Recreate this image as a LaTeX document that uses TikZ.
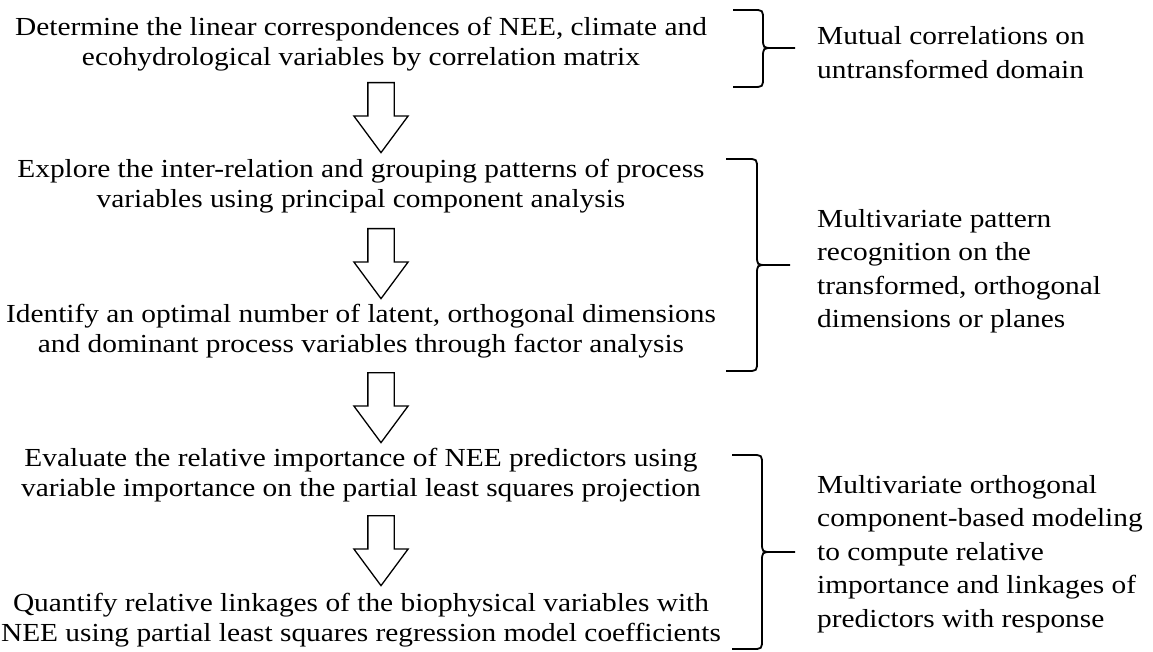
\documentclass[tikz,border=0pt]{standalone}
\usepackage{fontspec}
\setmainfont{Liberation Serif}[FakeStretch=1.13]
\usetikzlibrary{shapes.arrows, positioning, calc}

% Word-style curly brace: x tip, x stem, x point, y top, y point, y bottom
\newcommand\wordbrace[6]{%
  \draw[bracepen] (#1,#4) -- ({#2-10},#4) .. controls (#2,#4) .. (#2,{#4+10})
    -- (#2,{#5-10}) .. controls (#2,#5) .. ({#2+10},#5) -- (#3,#5)
    ({#2+10},#5) .. controls (#2,#5) .. (#2,{#5+10})
    -- (#2,{#6-10}) .. controls (#2,#6) .. ({#2-10},#6) -- (#1,#6);}

\begin{document}
\begin{tikzpicture}[
    x=1pt, y=-1pt,
    stage/.style={font=\fontsize{26}{30}\selectfont, align=center, inner sep=0pt},
    remark/.style={font=\fontsize{26}{33.5}\selectfont, align=left, anchor=west, inner sep=0pt},
    flow/.style={single arrow, draw, line width=1.3pt, rotate=-90, anchor=tail, inner sep=0pt,
      text height=12.5pt, text depth=12.5pt, minimum height=70pt,
      single arrow head extend=14pt, single arrow tip angle=73},
    bracepen/.style={line width=1.8pt}
  ]
  \useasboundingbox (0,0) rectangle (1153,652);

  % steps on the left
  \node[stage] (corr) at (361,43.8) {Determine the linear correspondences of NEE, climate and\\ecohydrological variables by correlation matrix};
  \node[stage] (pca) at (361,185.8) {Explore the inter-relation and grouping patterns of process\\variables using principal component analysis};
  \node[stage] (fa) at (361,331.3) {Identify an optimal number of latent, orthogonal dimensions\\and dominant process variables through factor analysis};
  \node[stage] (vip) at (361,474.8) {Evaluate the relative importance of NEE predictors using\\variable importance on the partial least squares projection};
  \node[stage] (plsr) at (361,619.8) {Quantify relative linkages of the biophysical variables with\\NEE using partial least squares regression model coefficients};

  % block arrows (placed by their tail)
  \node[flow] (a1) at (381,82) {};
  \node[flow] (a2) at (381,228) {};
  \node[flow] (a3) at (381,372) {};
  \node[flow] (a4) at (381,515) {};

  % braces
  \wordbrace{733}{763}{795}{10}{48}{87}
  \wordbrace{726}{757}{790}{159}{265}{371}
  \wordbrace{732}{762}{795}{455}{552}{649}

  % notes on the right
  \node[remark] (untr) at (817,52.7) {Mutual correlations on\\untransformed domain};
  \node[remark] (patt) at (817,271) {Multivariate pattern\\recognition on the\\transformed, orthogonal\\dimensions or planes};
  \node[remark] (model) at (817,553.8) {Multivariate orthogonal\\component-based modeling\\to compute relative\\importance and linkages of\\predictors with response};
\end{tikzpicture}
\end{document}
